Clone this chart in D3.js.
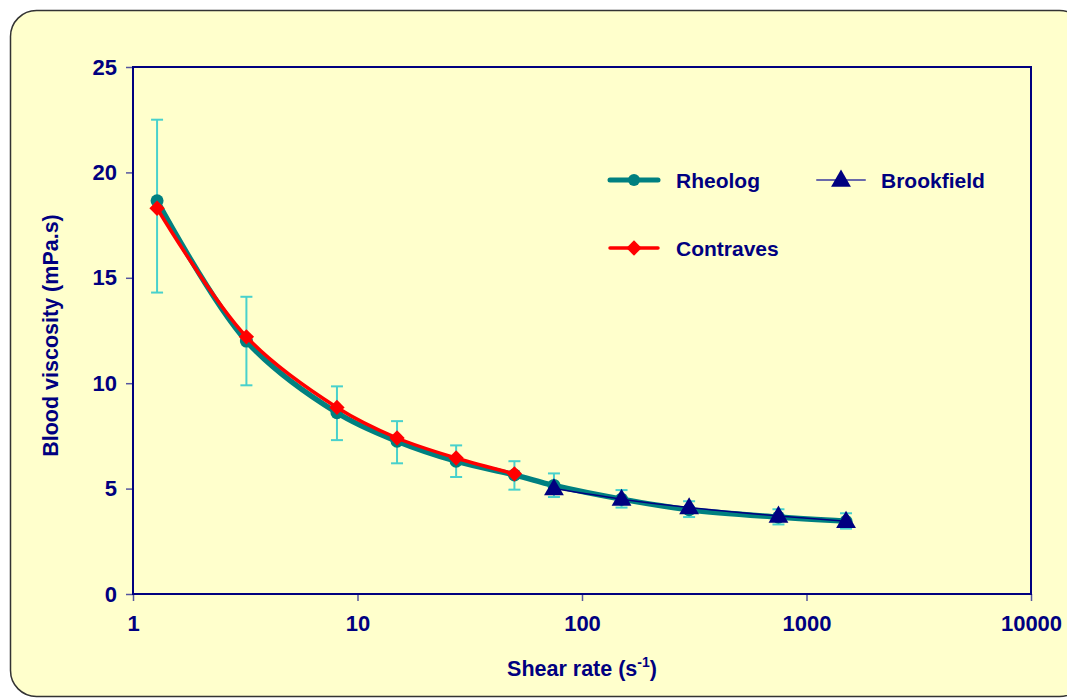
<!DOCTYPE html>
<html>
<head>
<meta charset="utf-8">
<script src="https://cdn.jsdelivr.net/npm/d3@7"></script>
<style>
  body { margin: 0; background: #fff; }
  text { font-family: "Liberation Sans", Arial, sans-serif; font-weight: bold; fill: #000080; }
</style>
</head>
<body>
<div id="chart"></div>
<script>
// shear rates (s-1)
const rheologRate = [1.28, 3.2, 8.1, 15, 27.5, 50, 75, 150, 300, 750, 1500];
const rheologVisc = [18.65, 12.0, 8.6, 7.25, 6.3, 5.65, 5.15, 4.5, 4.0, 3.65, 3.45];
const rheologErrLow = [14.3, 9.9, 7.3, 6.2, 5.55, 4.95, 4.6, 4.1, 3.65, 3.3, 3.1];
const rheologErrHigh = [22.5, 14.1, 9.85, 8.2, 7.05, 6.3, 5.72, 4.93, 4.4, 4.02, 3.83];

const contravesRate = [1.28, 3.2, 8.1, 15, 27.5, 50];
const contravesVisc = [18.3, 12.2, 8.85, 7.4, 6.45, 5.7];

const brookRate = [75, 150, 300, 750, 1500];
const brookVisc = [5.0, 4.5, 4.1, 3.7, 3.45];

const xTicks = [1, 10, 100, 1000, 10000];
const yTicks = [0, 5, 10, 15, 20, 25];

const W = 1067, H = 698;
const margin = { top: 67, right: 36, bottom: 104, left: 133 };
const width = W - margin.left - margin.right,
  height = H - margin.top - margin.bottom;

const navy = "#000080", teal = "#008080", red = "#ff0000", cyan = "#48d1cc";

const svg = d3.select("#chart").append("svg").attr("width", W).attr("height", H);

svg.append("rect")
  .attr("x", 10.5).attr("y", 10.5)
  .attr("width", 1075).attr("height", 686)
  .attr("rx", 26)
  .attr("fill", "#ffffcc")
  .attr("stroke", "#333")
  .attr("stroke-width", 1.5);

const g = svg.append("g").attr("transform", "translate(" + margin.left + "," + margin.top + ")");

const x = d3.scaleLog().domain([1, 10000]).range([0, width]);
const y = d3.scaleLinear().domain([0, 25]).range([height, 0]);

// axes
const xAxis = d3.axisBottom(x).tickValues(xTicks).tickFormat(d3.format("d")).tickSize(7).tickPadding(14);
const yAxis = d3.axisLeft(y).tickValues(yTicks).tickSize(7).tickPadding(9);

const xAxisG = g.append("g").attr("transform", "translate(0," + height + ")").call(xAxis);
const yAxisG = g.append("g").call(yAxis);

[xAxisG, yAxisG].forEach((a) => {
  a.select(".domain").remove();
  a.selectAll("line").attr("stroke", "#5555a0").attr("stroke-width", 1.5);
  a.selectAll("text").style("font-size", "22px").attr("fill", navy);
});

g.append("rect")
  .attr("width", width).attr("height", height)
  .attr("fill", "none").attr("stroke", navy).attr("stroke-width", 2);

const line = d3.line()
  .x((d) => x(d[0]))
  .y((d) => y(d[1]))
  .curve(d3.curveCatmullRom.alpha(0.5));

const rheolog = rheologRate.map((r, i) => [r, rheologVisc[i]]);
const contraves = contravesRate.map((r, i) => [r, contravesVisc[i]]);
const brook = brookRate.map((r, i) => [r, brookVisc[i]]);

// error bars
const err = g.append("g").attr("stroke", cyan).attr("stroke-width", 2);
rheologRate.forEach((r, i) => {
  const cx = x(r);
  err.append("line").attr("x1", cx).attr("x2", cx).attr("y1", y(rheologErrLow[i])).attr("y2", y(rheologErrHigh[i]));
  [rheologErrLow[i], rheologErrHigh[i]].forEach((v) => {
    err.append("line").attr("x1", cx - 6).attr("x2", cx + 6).attr("y1", y(v)).attr("y2", y(v));
  });
});

// Rheolog
g.append("path").datum(rheolog).attr("d", line)
  .attr("fill", "none").attr("stroke", teal).attr("stroke-width", 5.5);
g.selectAll(".rh").data(rheolog).enter().append("circle")
  .attr("cx", (d) => x(d[0])).attr("cy", (d) => y(d[1])).attr("r", 6.5).attr("fill", teal);

// Brookfield
g.append("path").datum(brook).attr("d", line)
  .attr("fill", "none").attr("stroke", navy).attr("stroke-width", 1.5);

// Contraves
g.append("path").datum(contraves).attr("d", line)
  .attr("fill", "none").attr("stroke", red).attr("stroke-width", 3.5);

const diamond = d3.symbol().type(d3.symbolDiamond2).size(150);
g.selectAll(".ct").data(contraves).enter().append("path")
  .attr("d", diamond)
  .attr("transform", (d) => "translate(" + x(d[0]) + "," + y(d[1]) + ")")
  .attr("fill", red);

const tri = d3.symbol().type(d3.symbolTriangle).size(170);
g.selectAll(".bk").data(brook).enter().append("path")
  .attr("d", tri)
  .attr("transform", (d) => "translate(" + x(d[0]) + "," + (y(d[1]) + 1) + ")")
  .attr("fill", navy);

// legend
const legend = svg.append("g");
const legendItems = [
  { name: "Rheolog", lx: 610, ly: 180, color: teal, sw: 5, mark: "circle" },
  { name: "Brookfield", lx: 817, ly: 180, color: "#6a6aaa", sw: 2, mark: "tri" },
  { name: "Contraves", lx: 610, ly: 248, color: red, sw: 3.5, mark: "diamond" },
];
legendItems.forEach((it) => {
  legend.append("line")
    .attr("x1", it.lx).attr("x2", it.lx + 48).attr("y1", it.ly).attr("y2", it.ly)
    .attr("stroke", it.color).attr("stroke-width", it.sw).attr("stroke-linecap", "round");
  const mx = it.lx + 24;
  if (it.mark === "circle") {
    legend.append("circle").attr("cx", mx).attr("cy", it.ly).attr("r", 6).attr("fill", teal);
  } else if (it.mark === "tri") {
    legend.append("path").attr("d", tri).attr("transform", "translate(" + mx + "," + (it.ly + 1) + ")").attr("fill", navy);
  } else {
    legend.append("path").attr("d", diamond).attr("transform", "translate(" + mx + "," + it.ly + ")").attr("fill", red);
  }
  legend.append("text")
    .attr("x", it.lx + (it.mark === "tri" ? 64 : 66)).attr("y", it.ly + 8)
    .style("font-size", "21px").text(it.name);
});

// axis titles
svg.append("text")
  .attr("transform", "translate(58," + (margin.top + height / 2 + 5) + ") rotate(-90)")
  .attr("text-anchor", "middle")
  .style("font-size", "21.5px")
  .text("Blood viscosity (mPa.s)");

const xt = svg.append("text")
  .attr("x", margin.left + width / 2)
  .attr("y", 676)
  .attr("text-anchor", "middle")
  .style("font-size", "21.5px");
xt.append("tspan").text("Shear rate (s");
xt.append("tspan").attr("dy", -9).style("font-size", "14px").text("-1");
xt.append("tspan").attr("dy", 9).text(")");
</script>
</body>
</html>
